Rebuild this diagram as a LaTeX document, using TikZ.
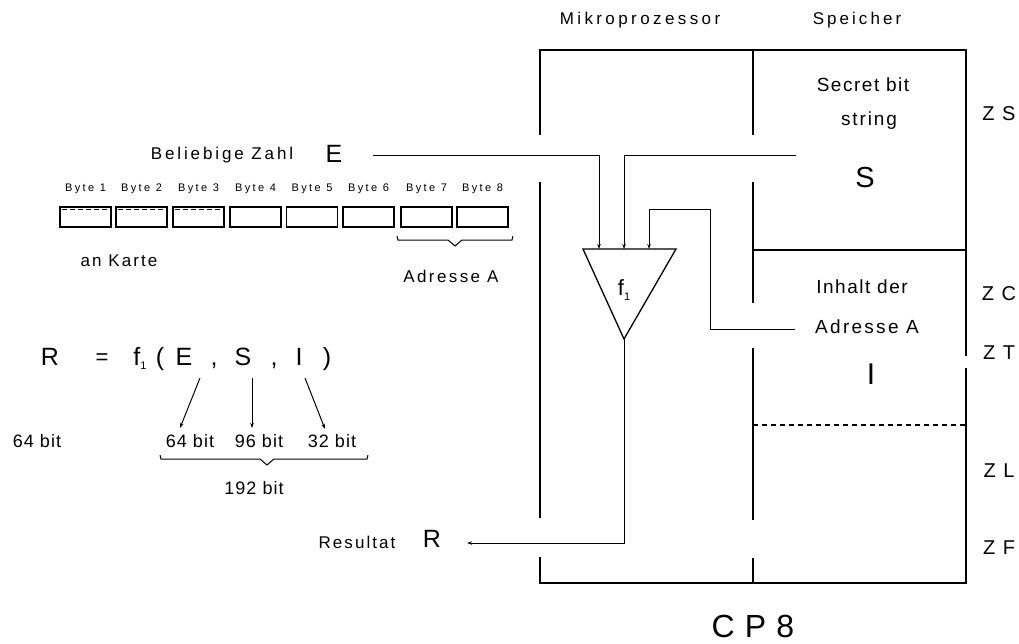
\documentclass[tikz,border=0pt]{standalone}
\usepackage{fontspec}
\setmainfont{Liberation Sans}
\usetikzlibrary{arrows.meta}
\newcommand\fz[2]{\fontsize{#1}{#1}\selectfont\addfontfeatures{LetterSpace=#2}}
\tikzset{
  txt/.style={inner sep=0pt, anchor=center},
  ftxt/.style={inner sep=0pt, anchor=base, font={\fz{25}{0}}},
  frame/.style={line width=1.5pt},
  wire/.style={line width=1pt},
  tipline/.style={line width=1pt,-{Stealth[length=5pt,width=3.5pt]}},
  bytebox/.style={draw, line width=1.1pt, minimum width=51pt, minimum height=20pt, inner sep=0pt},
  brace/.style={line width=1pt},
}
\begin{document}
\begin{tikzpicture}[x=1pt,y=-1pt]
\useasboundingbox (0,0) rectangle (1019,643);

% ---------- CP8 frame ----------
\draw[frame] (540,135) -- (540,50) -- (966,50) -- (966,356);
\draw[frame] (966,368) -- (966,583) -- (540,583) -- (540,557);
\draw[frame] (540,182) -- (540,518);
\draw[frame] (753,50) -- (753,135);
\draw[frame] (753,182) -- (753,303);
\draw[frame] (753,348) -- (753,520);
\draw[frame] (753,558) -- (753,583);
\draw[frame] (753,250) -- (966,250);
\draw[frame,dashed,dash pattern=on 5pt off 4pt] (753,425) -- (966,425);

% ---------- headings ----------
\node[txt,font={\fz{17}{20}}] (mp) at (640,20) {Mikroprozessor};
\node[txt,font={\fz{17}{18}}] (sp) at (857,20) {Speicher};
\node[txt,font={\fz{19}{8}}] (sbs1) at (863,85) {Secret bit};
\node[txt,font={\fz{19}{10}}] (sbs2) at (869,121) {string};
\node[txt,font={\fz{29}{0}}] (S) at (865,178) {S};
\node[txt,font={\fz{19}{8}}] (inh) at (862,287) {Inhalt der};
\node[txt,font={\fz{19}{12}}] (adrR) at (867,327) {Adresse A};
\node[txt,font={\fz{30}{0}}] (Ival) at (871,374) {I};
\node[txt,font={\fz{20}{10}}] (zs) at (999,114) {Z S};
\node[txt,font={\fz{20}{10}}] (zc) at (999,294) {Z C};
\node[txt,font={\fz{20}{10}}] (zt) at (999,353) {Z T};
\node[txt,font={\fz{20}{10}}] (zl) at (999,471) {Z L};
\node[txt,font={\fz{20}{10}}] (zf) at (999,548) {Z F};
\node[txt,font={\fz{32}{4}}] (cp8) at (753,626) {C P 8};

% ---------- function block ----------
\coordinate (tl) at (583,249);
\coordinate (tr) at (676,249);
\coordinate (ap) at (624,339);
\draw[wire,line width=1.3pt] (tl) -- (tr) -- (ap) -- cycle;
\node[txt,font={\fz{22}{0}}] (f1) at (624,290) {f\raisebox{-0.35ex}{\fontsize{11}{11}\selectfont 1}};
\coordinate (inE) at (599,249);
\coordinate (inS) at (624,249);
\coordinate (inI) at (649,249);

% ---------- inputs ----------
\node[txt,font={\fz{17}{17}}] (bz) at (222,155) {Beliebige Zahl};
\node[txt,font={\fz{25}{0}}] (E) at (334,154) {E};
\coordinate (Estart) at (373,155);
\draw[tipline] (Estart) -- (599,155) -- (inE);
\coordinate (Sstart) at (796,155);
\draw[tipline] (Sstart) -- (624,155) -- (inS);
\coordinate (Istart) at (795,329);
\draw[tipline] (Istart) -- (710,329) -- (710,209) -- (649,209) -- (inI);

% ---------- output ----------
\node[txt,font={\fz{17}{12}}] (res) at (357,542) {Resultat};
\node[txt,font={\fz{25}{0}}] (R) at (432,539) {R};
\coordinate (Rend) at (467,543);
\draw[tipline] (ap) -- (624,543) -- (Rend);

% ---------- bytes ----------
\foreach \i/\x in {1/85.5,2/141.5,3/198.5,4/255.5,5/312,6/368.5,7/426.5,8/482.5}{
  \node[bytebox] (b\i) at (\x,217) {};
  \node[txt,font={\fz{11}{22}}] (bl\i) at (\x,189) {Byte \i};
}
\foreach \i in {1,2,3}{
  \draw[line width=0.8pt,dash pattern=on 5pt off 3pt] ([xshift=3pt,yshift=-2.5pt]b\i.north west) -- ([xshift=-3pt,yshift=-2.5pt]b\i.north east);
}
\draw[brace] (397,236) -- (398,240) -- (448,240) -- (455,246) -- (462,240) -- (512,240) -- (513,236);
\node[txt,font={\fz{17}{14}}] (adrL) at (451,276) {Adresse A};
\node[txt,font={\fz{17}{12}}] (ank) at (119,261) {an Karte};

% ---------- formula (baseline y = 365) ----------
\node[ftxt] (fR) at (50,365) {R};
\node[ftxt,font={\fz{22}{0}}] (feq) at (102,364) {=};
\node[ftxt] (ff) at (140,365) {f\raisebox{-0.35ex}{\fontsize{11}{11}\selectfont 1}};
\node[ftxt] (flp) at (160,365) {(};
\node[ftxt] (fE) at (184,365) {E};
\node[ftxt] (fc1) at (214,365) {,};
\node[ftxt] (fS) at (243,365) {S};
\node[ftxt] (fc2) at (274,365) {,};
\node[ftxt] (fI) at (299,365) {I};
\node[ftxt] (frp) at (327,365) {)};

\node[txt,font={\fz{18}{6}}] (b64l) at (37,441) {64 bit};
\node[txt,font={\fz{18}{6}}] (b64) at (190,441) {64 bit};
\node[txt,font={\fz{18}{6}}] (b96) at (259,441) {96 bit};
\node[txt,font={\fz{18}{6}}] (b32) at (332,441) {32 bit};
\draw[tipline] (200,378) -- (180,428);
\draw[tipline] (252,378) -- (252,428);
\draw[tipline] (305,378) -- (325,429);
\draw[brace] (160,455) -- (161,459) -- (260,459) -- (267,465) -- (274,459) -- (367,459) -- (368,455);
\node[txt,font={\fz{18}{6}}] (b192) at (254,488) {192 bit};
\end{tikzpicture}
\end{document}
